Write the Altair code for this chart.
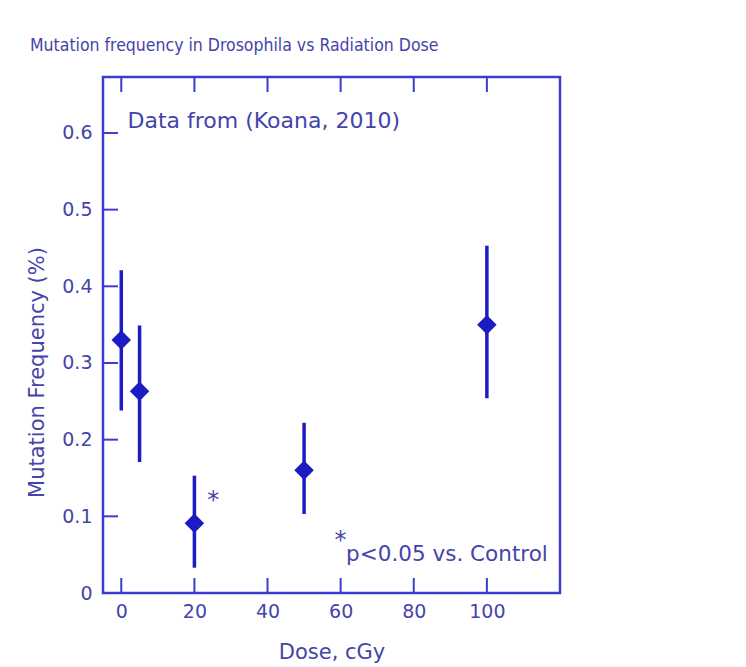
import altair as alt
import pandas as pd

dose = [0, 5, 20, 50, 100]
freq = [0.33, 0.263, 0.091, 0.16, 0.35]
lower = [0.238, 0.171, 0.033, 0.103, 0.254]
upper = [0.421, 0.349, 0.153, 0.222, 0.453]

x_ticks = [0, 20, 40, 60, 80, 100]
y_ticks = [0, 0.1, 0.2, 0.3, 0.4, 0.5, 0.6]

notes_text = ["Data from (Koana, 2010)", "*", "*", "p<0.05 vs. Control"]
notes_x = [1.7, 23.5, 58.3, 61.5]
notes_y = [0.615, 0.12, 0.068, 0.05]
notes_size = [22, 24, 24, 21.5]

BLUE = "#1c1cc4"
FRAME = "#3c3cd0"
TXT = "#4444aa"
NARROW = "Liberation Sans Narrow, DejaVu Sans Condensed, Liberation Sans"
SANS = "DejaVu Sans, Liberation Sans, sans-serif"

df = pd.DataFrame({"dose": dose, "freq": freq, "lo": lower, "hi": upper})
xt = pd.DataFrame({"t": x_ticks})
yt = pd.DataFrame({"t": y_ticks})
notes = pd.DataFrame({"text": notes_text, "x": notes_x, "y": notes_y, "size": notes_size})

xs = alt.Scale(domain=[-5, 120], nice=False, zero=False)
ys = alt.Scale(domain=[0, 0.673], nice=False, zero=False)

x_axis = alt.Axis(values=x_ticks, domain=False, ticks=False, grid=False,
                  labelFontSize=19, labelColor=TXT, labelFont=SANS, labelPadding=9,
                  title="Dose, cGy", titleFontSize=21, titleColor=TXT, titleFont=SANS,
                  titleFontWeight="normal", titleY=59, titleBaseline="middle")
y_axis = alt.Axis(values=y_ticks, domain=False, ticks=False, grid=False, format="~g",
                  labelFontSize=19, labelColor=TXT, labelFont=SANS, labelPadding=11,
                  title="Mutation Frequency (%)", titleFontSize=21, titleColor=TXT,
                  titleFont=SANS, titleFontWeight="normal", titleX=-66, titleY=295,
                  titleAlign="center", titleBaseline="middle", titleAngle=270)

err = alt.Chart(df).mark_rule(color=BLUE, strokeWidth=3.5).encode(
    x=alt.X("dose:Q", scale=xs, axis=x_axis),
    y=alt.Y("lo:Q", scale=ys, axis=y_axis),
    y2="hi:Q",
)
pts = alt.Chart(df).mark_point(shape="diamond", filled=True, size=380, color=BLUE, opacity=1).encode(
    x=alt.X("dose:Q", scale=xs),
    y=alt.Y("freq:Q", scale=ys),
)

tick_bottom = alt.Chart(xt).mark_rule(color=FRAME, strokeWidth=2).encode(
    x=alt.X("t:Q", scale=xs), y=alt.value(516), y2=alt.value(501))
tick_top = alt.Chart(xt).mark_rule(color=FRAME, strokeWidth=2).encode(
    x=alt.X("t:Q", scale=xs), y=alt.value(0), y2=alt.value(15))
tick_left = alt.Chart(yt).mark_rule(color=FRAME, strokeWidth=2).encode(
    y=alt.Y("t:Q", scale=ys), x=alt.value(0), x2=alt.value(15))

txt = alt.Chart(notes).mark_text(align="left", baseline="middle", font=SANS, color=TXT).encode(
    x=alt.X("x:Q", scale=xs),
    y=alt.Y("y:Q", scale=ys),
    text="text:N",
    size=alt.Size("size:Q", scale=None, legend=None),
)

chart = alt.layer(err, pts, tick_bottom, tick_top, tick_left, txt).properties(
    width=457, height=516,
    autosize=alt.AutoSizeParams(type="none"),
    padding={"left": 103, "top": 77, "right": 186, "bottom": 74},
    title=alt.TitleParams("Mutation frequency in Drosophila vs Radiation Dose",
                          anchor="start", frame="group", dx=-73, offset=22,
                          fontSize=17.5, font=NARROW, color=TXT, fontWeight="normal"),
).configure(background="white").configure_view(stroke=FRAME, strokeWidth=2.5)

chart.save("out.html", embed_options={"renderer": "svg", "actions": False})
